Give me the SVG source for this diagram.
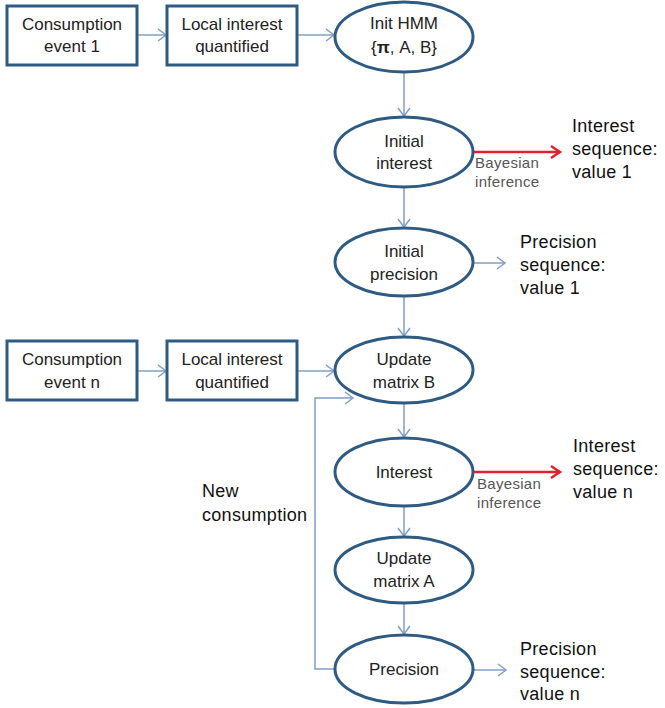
<svg xmlns="http://www.w3.org/2000/svg" width="665" height="708" viewBox="0 0 665 708">
<defs>
<marker id="ah" markerUnits="userSpaceOnUse" markerWidth="12" markerHeight="14" refX="9" refY="6" orient="auto" overflow="visible">
<path d="M1,0 L9,6 L1,12" fill="none" stroke="#7f9fc4" stroke-width="1.5"/>
</marker>
<marker id="ahr" markerUnits="userSpaceOnUse" markerWidth="12" markerHeight="14" refX="10" refY="6" orient="auto" overflow="visible">
<path d="M1,0 L10,6 L1,12" fill="none" stroke="#e21f2d" stroke-width="2.5"/>
</marker>
</defs>
<style>
.box{fill:#fff;stroke:#2f5a82;stroke-width:3}
.ell{fill:#fff;stroke:#2f5a82;stroke-width:3}
.t{font-family:"Liberation Sans",Arial,sans-serif;font-size:17px;fill:#222;text-anchor:middle}
.o{font-family:"Liberation Sans",Arial,sans-serif;font-size:18px;fill:#111;letter-spacing:0.3px}
.g{font-family:"Liberation Sans",Arial,sans-serif;font-size:15px;fill:#555;letter-spacing:0.3px}
.c{fill:none;stroke:#7f9fc4;stroke-width:1.5}
.r{fill:none;stroke:#e21f2d;stroke-width:2.5}
</style>
<rect width="665" height="708" fill="#fff"/>
<g id="connectors">
<line class="c" x1="137" y1="35" x2="166" y2="35" marker-end="url(#ah)"/>
<line class="c" x1="297" y1="35" x2="334" y2="35" marker-end="url(#ah)"/>
<line class="c" x1="404" y1="72" x2="404" y2="116" marker-end="url(#ah)"/>
<line class="r" x1="473" y1="152" x2="560" y2="152" marker-end="url(#ahr)"/>
<line class="c" x1="404" y1="187" x2="404" y2="227" marker-end="url(#ah)"/>
<line class="c" x1="473" y1="263" x2="505" y2="263" marker-end="url(#ah)"/>
<line class="c" x1="404" y1="296" x2="404" y2="336" marker-end="url(#ah)"/>
<line class="c" x1="137" y1="371" x2="166" y2="371" marker-end="url(#ah)"/>
<line class="c" x1="297" y1="371" x2="334" y2="371" marker-end="url(#ah)"/>
<line class="c" x1="404" y1="403" x2="404" y2="437" marker-end="url(#ah)"/>
<line class="r" x1="473" y1="472" x2="560" y2="472" marker-end="url(#ahr)"/>
<line class="c" x1="404" y1="506" x2="404" y2="536" marker-end="url(#ah)"/>
<line class="c" x1="404" y1="603" x2="404" y2="634" marker-end="url(#ah)"/>
<line class="c" x1="473" y1="670" x2="506" y2="670" marker-end="url(#ah)"/>
<path class="c" d="M335,669 H315 V398 H353" marker-end="url(#ah)"/>
</g>
<g id="box-event1">
<rect class="box" x="7" y="6" width="130" height="59"/>
<text class="t" x="72" y="30">Consumption</text>
<text class="t" x="72" y="52">event 1</text>
</g>
<g id="box-local1">
<rect class="box" x="167" y="6" width="130" height="59"/>
<text class="t" x="232" y="30">Local interest</text>
<text class="t" x="232" y="52">quantified</text>
</g>
<g id="init-hmm">
<ellipse class="ell" cx="404" cy="37" rx="69" ry="35"/>
<text class="t" x="404" y="29">Init HMM</text>
<text class="t" x="404" y="53">{<tspan font-weight="bold">π</tspan>, A, B}</text>
</g>
<g id="initial-interest">
<ellipse class="ell" cx="404" cy="152" rx="69" ry="35"/>
<text class="t" x="404" y="147">Initial</text>
<text class="t" x="404" y="169">interest</text>
</g>
<g id="bayes1">
<text class="g" x="475" y="168">Bayesian</text>
<text class="g" x="475" y="187">inference</text>
</g>
<g id="interest-seq1">
<text class="o" x="572" y="132">Interest</text>
<text class="o" x="572" y="155">sequence:</text>
<text class="o" x="572" y="178">value 1</text>
</g>
<g id="initial-precision">
<ellipse class="ell" cx="404" cy="262" rx="69" ry="34"/>
<text class="t" x="404" y="257">Initial</text>
<text class="t" x="404" y="280">precision</text>
</g>
<g id="precision-seq1">
<text class="o" x="520" y="248">Precision</text>
<text class="o" x="520" y="271">sequence:</text>
<text class="o" x="520" y="294">value 1</text>
</g>
<g id="box-eventn">
<rect class="box" x="7" y="341" width="130" height="59"/>
<text class="t" x="72" y="365">Consumption</text>
<text class="t" x="72" y="388">event n</text>
</g>
<g id="box-localn">
<rect class="box" x="167" y="341" width="130" height="59"/>
<text class="t" x="232" y="365">Local interest</text>
<text class="t" x="232" y="388">quantified</text>
</g>
<g id="update-b">
<ellipse class="ell" cx="404" cy="370" rx="69" ry="33"/>
<text class="t" x="404" y="365">Update</text>
<text class="t" x="404" y="388">matrix B</text>
</g>
<g id="new-consumption">
<text class="o" x="202" y="497">New</text>
<text class="o" x="202" y="521">consumption</text>
</g>
<g id="interest">
<ellipse class="ell" cx="404" cy="472" rx="69" ry="34"/>
<text class="t" x="404" y="478">Interest</text>
</g>
<g id="bayesn">
<text class="g" x="477" y="489">Bayesian</text>
<text class="g" x="477" y="508">inference</text>
</g>
<g id="interest-seqn">
<text class="o" x="573" y="452">Interest</text>
<text class="o" x="573" y="475">sequence:</text>
<text class="o" x="573" y="498">value n</text>
</g>
<g id="update-a">
<ellipse class="ell" cx="404" cy="570" rx="69" ry="33"/>
<text class="t" x="404" y="564">Update</text>
<text class="t" x="404" y="587">matrix A</text>
</g>
<g id="precision">
<ellipse class="ell" cx="404" cy="669" rx="69" ry="34"/>
<text class="t" x="404" y="675">Precision</text>
</g>
<g id="precision-seqn">
<text class="o" x="520" y="655">Precision</text>
<text class="o" x="520" y="678">sequence:</text>
<text class="o" x="520" y="700">value n</text>
</g>
</svg>
